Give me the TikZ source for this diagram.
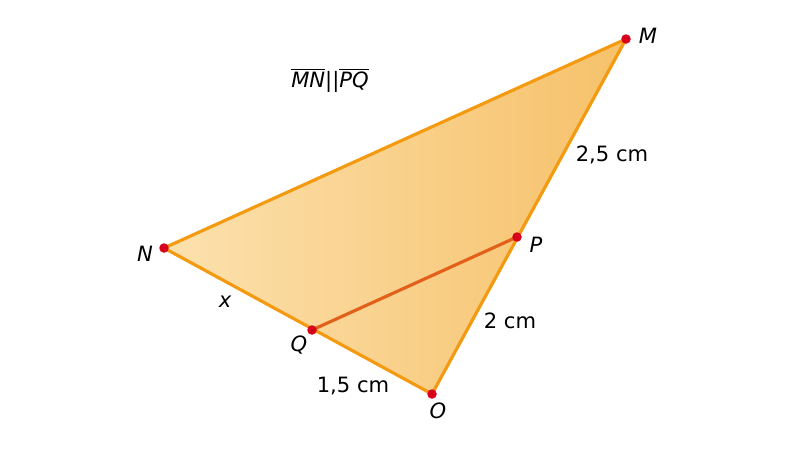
\documentclass[tikz,border=0pt]{standalone}
\usepackage{fontspec}
\setmainfont{DejaVu Sans}
\definecolor{edgeor}{HTML}{F39A10}
\definecolor{midor}{HTML}{E2601A}
\definecolor{ptred}{HTML}{D9001B}
\definecolor{filllt}{HTML}{FCE1AE}
\definecolor{filldk}{HTML}{F6C16A}
\begin{document}
\begin{tikzpicture}[x=0.02cm,y=-0.02cm,
  pt/.style={circle,fill=ptred,inner sep=0pt,minimum size=0.19cm},
  lab/.style={inner sep=1pt,font=\fontsize{12}{14}\selectfont\itshape},
  len/.style={inner sep=1pt,font=\fontsize{12}{14}\selectfont}]
  \useasboundingbox (0,0) rectangle (800,458);
  % the vertices
  \coordinate (m) at (626,39);
  \coordinate (n) at (164,248);
  \coordinate (o) at (432,394);
  \coordinate (p) at (517,237);
  \coordinate (q) at (312,330);
  % the filled triangle
  \shade[left color=filllt,right color=filldk] (m) -- (n) -- (o) -- cycle;
  \draw[edgeor,line width=1.8pt,line join=round] (m) -- (n) -- (o) -- cycle;
  \draw[midor,line width=1.8pt] (p) -- (q);
  % the points
  \foreach \v in {m,n,o,p,q}
    \node[pt] (\v d) at (\v) {};
  \node[lab] (lm) at (648,36) {M};
  \node[lab] (ln) at (145,254) {N};
  \node[lab] (lp) at (536,245) {P};
  \node[lab] (lq) at (299,345) {Q};
  \node[lab] (lo) at (438,411) {O};
  % the lengths
  \node[lab] (lx) at (225,302) {x};
  \node[len] (l1) at (612,155) {2,5 cm};
  \node[len] (l2) at (510,321) {2 cm};
  \node[len] (l3) at (353,386) {1,5 cm};
  \node[len] (par) at (330,80) {$\overline{\mbox{\itshape MN}}$||$\overline{\mbox{\itshape PQ}}$};
\end{tikzpicture}
\end{document}
